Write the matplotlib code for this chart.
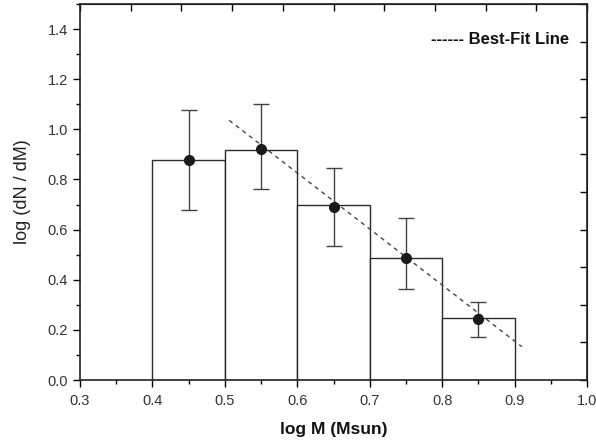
import matplotlib.pyplot as plt
from matplotlib.ticker import MultipleLocator, NullFormatter
import numpy as np

plt.rcParams.update({'font.family': ['Liberation Sans', 'DejaVu Sans']})

# histogram bins (log M) and heights
bin_left = [0.4, 0.5, 0.6, 0.7, 0.8]
bin_width = 0.1
bin_height = [0.876, 0.916, 0.700, 0.485, 0.247]

# data points with error bars
pt_x = [0.45, 0.55, 0.65, 0.75, 0.85]
pt_y = [0.878, 0.920, 0.689, 0.485, 0.243]
err_hi = [1.076, 1.103, 0.845, 0.645, 0.313]
err_lo = [0.680, 0.760, 0.533, 0.364, 0.172]

# best-fit line end points
fit_x = [0.506, 0.910]
fit_y = [1.036, 0.133]

fig = plt.figure(figsize=(5.96, 4.41), dpi=100)
ax = fig.add_axes([80 / 596, 1 - 380 / 441, 507 / 596, 376 / 441])

ax.bar(bin_left, bin_height, width=bin_width, align='edge',
       facecolor='white', edgecolor='#2a2a2a', linewidth=1.0, zorder=1)

py = np.array(pt_y)
yerr = [py - np.array(err_lo), np.array(err_hi) - py]
ax.errorbar(pt_x, pt_y, yerr=yerr, fmt='o', color='#1a1a1a', ms=7,
            ecolor='#444444', elinewidth=1.0, capsize=6, capthick=1.0, zorder=3)

ax.plot(fit_x, fit_y, linestyle=(0, (3, 3)), color='#444444', linewidth=1.0, zorder=2)

ax.text(0.965, 0.905, '------ Best-Fit Line', transform=ax.transAxes,
        ha='right', va='center', fontsize=12, fontweight='bold', color='#111111')

ax.set_xlim(0.3, 1.0)
ax.set_ylim(0.0, 1.5)
ax.xaxis.set_major_locator(MultipleLocator(0.1))
ax.xaxis.set_minor_locator(MultipleLocator(0.05))
ax.yaxis.set_major_locator(MultipleLocator(0.2))
ax.yaxis.set_minor_locator(MultipleLocator(0.1))
ax.xaxis.set_major_formatter(plt.FuncFormatter(lambda v, p: '%.1f' % v))
ax.yaxis.set_major_formatter(plt.FuncFormatter(lambda v, p: '%.1f' % v))
ax.tick_params(which='major', direction='out', length=5, width=1, labelsize=10.5,
               labelcolor='#333333', top=False, right=False)
ax.tick_params(axis='x', which='major', pad=5)
ax.tick_params(which='minor', direction='out', length=3, width=1, top=False, right=False)
for s in ax.spines.values():
    s.set_linewidth(1.2)
    s.set_color('#222222')

# top and right axes: ten equal divisions, ticks pointing in
sx = ax.secondary_xaxis('top')
sx.set_xticks(np.linspace(0.3, 1.0, 11))
sx.xaxis.set_major_formatter(NullFormatter())
sx.tick_params(direction='in', length=5, width=1)
sy = ax.secondary_yaxis('right')
sy.set_yticks(np.linspace(0.0, 1.5, 11))
sy.yaxis.set_major_formatter(NullFormatter())
sy.tick_params(direction='in', length=5, width=1)

ax.set_xlabel('log M (Msun)', fontsize=12.5, fontweight='bold', color='#111111', labelpad=10)
ax.set_ylabel('log (dN / dM)', fontsize=13, color='#222222', labelpad=12)

fig.savefig('out.png', dpi=100)
